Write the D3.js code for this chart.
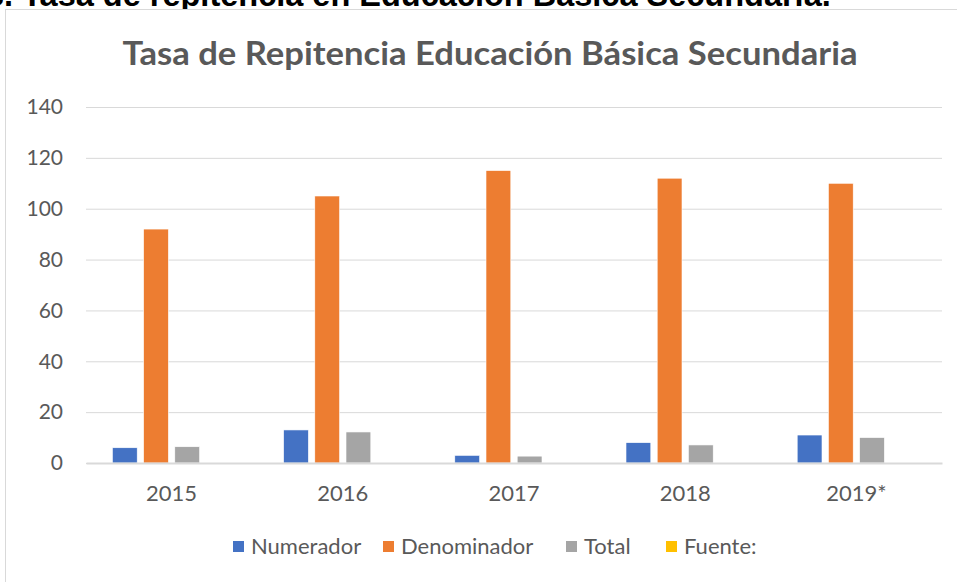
<!DOCTYPE html>
<html><head><meta charset="utf-8">
<script src="https://cdn.jsdelivr.net/npm/d3@7"></script>
<style>html,body{margin:0;padding:0;background:#fff;overflow:hidden}</style>
</head><body>
<svg id="c" width="957" height="582"></svg>
<script>
const heading = "3. Tasa de repitencia en Educación Básica Secundaria.";
const title = "Tasa de Repitencia Educación Básica Secundaria";
const categories = ["2015","2016","2017","2018","2019*"];
const seriesNames = ["Numerador","Denominador","Total","Fuente:"];
const numerador = [6, 13, 3, 8, 11];
const denominador = [92, 105, 115, 112, 110];
const total = [6.4, 12.2, 2.7, 7.1, 10];
const fuente = [null, null, null, null, null];
const yTicks = [0, 20, 40, 60, 80, 100, 120, 140];
const colors = ["#4472C4", "#ED7D31", "#A5A5A5", "#FFC000"];

const seriesValues = [numerador, denominador, total, fuente];
const svg = d3.select("#c");
const font = "Lato, 'Open Sans', sans-serif";

// page heading (cut at top, as in the source document)
svg.append("text").attr("x", -14).attr("y", 6)
  .attr("font-family", "'Liberation Sans', Arial, sans-serif").attr("font-weight", "bold")
  .attr("font-size", 32.5).attr("fill", "#000").text(heading);

// chart frame
svg.append("rect").attr("x", 5.5).attr("y", 9.5).attr("width", 1000).attr("height", 1000)
  .attr("fill", "#fff").attr("stroke", "#d9d9d9").attr("stroke-width", 1);

// title
svg.append("text").attr("x", 490).attr("y", 65).attr("text-anchor", "middle")
  .attr("font-family", font).attr("font-weight", "bold").attr("font-size", 33)
  .attr("textLength", 735).attr("lengthAdjust", "spacingAndGlyphs")
  .attr("fill", "#595959").text(title);

const x0 = d3.scaleBand().domain(categories).range([86, 942]).paddingInner(0).paddingOuter(0);
const x1 = d3.scaleBand().domain(seriesNames).range([0, x0.bandwidth()]).paddingInner(0.205).paddingOuter(0.846);
const y = d3.scaleLinear().domain([0, 140]).range([463, 107]);

// gridlines + y labels
const yAxis = d3.axisLeft(y).tickValues(yTicks).tickSize(-(942 - 86)).tickPadding(23).tickFormat(d3.format("d"));
const gy = svg.append("g").attr("transform", "translate(86,0)").call(yAxis);
gy.select(".domain").remove();
gy.selectAll(".tick line").attr("stroke", "#d9d9d9").attr("stroke-width", 1);
gy.selectAll(".tick text").attr("font-family", font).attr("font-size", 21).attr("fill", "#595959");

// bars
const rows = categories.map((c, i) => ({cat: c, vals: seriesNames.map((s, j) => ({s, v: seriesValues[j][i], color: colors[j]}))}));
svg.append("g").selectAll("g").data(rows).join("g")
  .attr("transform", d => `translate(${x0(d.cat)},0)`)
  .selectAll("rect").data(d => d.vals.filter(v => v.v != null)).join("rect")
  .attr("x", d => x1(d.s)).attr("width", x1.bandwidth())
  .attr("y", d => y(d.v)).attr("height", d => y(0) - y(d.v))
  .attr("fill", d => d.color).attr("stroke", "#fff").attr("stroke-width", 0.6);

// x axis
const xAxis = d3.axisBottom(x0).tickSize(0).tickPadding(22);
const gx = svg.append("g").attr("transform", "translate(0,463)").call(xAxis);
gx.select(".domain").attr("stroke", "#d9d9d9").attr("stroke-width", 2);
gx.selectAll(".tick text").attr("font-family", font).attr("font-size", 22).attr("fill", "#595959");

// legend
const legendX = [233, 383, 566, 666];
const lg = svg.append("g").selectAll("g").data(seriesNames).join("g")
  .attr("transform", (d, i) => `translate(${legendX[i]},541)`);
lg.append("rect").attr("width", 11).attr("height", 11).attr("fill", (d, i) => colors[i]);
lg.append("text").attr("x", 18).attr("y", 13).attr("font-family", font).attr("font-size", 22)
  .attr("fill", "#595959").text(d => d);
</script>
</body></html>
